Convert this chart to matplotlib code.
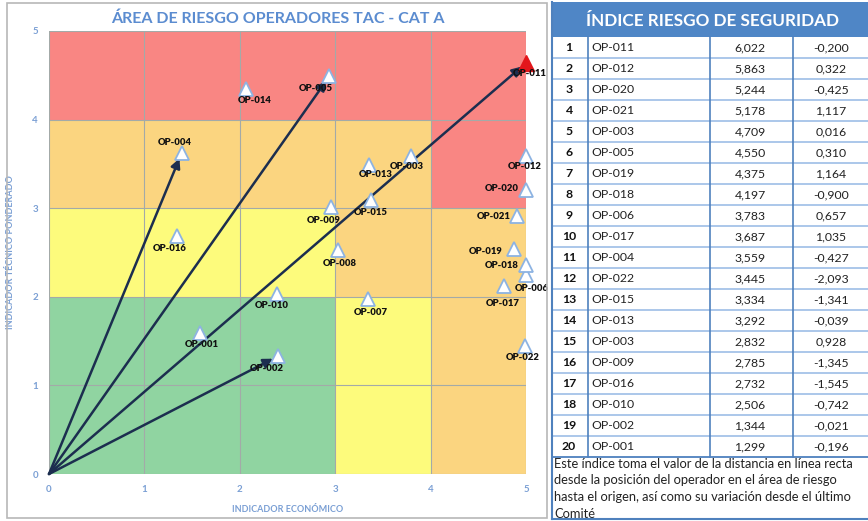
import matplotlib.pyplot as plt
from matplotlib.patches import Rectangle

plt.rcParams['font.family'] = ['Lato', 'DejaVu Sans']

# operators in the risk area (economic indicator, technical indicator)
ops = ['OP-001', 'OP-002', 'OP-003', 'OP-004', 'OP-005', 'OP-006', 'OP-007', 'OP-008',
       'OP-009', 'OP-010', 'OP-011', 'OP-012', 'OP-013', 'OP-014', 'OP-015', 'OP-016',
       'OP-017', 'OP-018', 'OP-019', 'OP-020', 'OP-021', 'OP-022']
econ = [1.58, 2.40, 3.79, 1.39, 2.94, 5.00, 3.34, 3.03, 2.96, 2.39, 5.00, 5.00,
        3.35, 2.07, 3.38, 1.34, 4.77, 5.00, 4.87, 5.00, 4.91, 4.99]
tech = [1.59, 1.33, 3.59, 3.62, 4.49, 2.25, 1.97, 2.53, 3.01, 2.03, 4.64, 3.59,
        3.49, 4.35, 3.09, 2.69, 2.12, 2.36, 2.54, 3.21, 2.91, 1.44]
arrow_ops = ['OP-004', 'OP-005', 'OP-011', 'OP-002']
top_op = 'OP-011'

# risk zones (x0, x1, y0, y1, colour)
zones = [
    (0, 5, 4, 5, '#f98683'), (4, 5, 3, 4, '#f98683'),
    (0, 4, 3, 4, '#fbd580'), (3, 5, 2, 3, '#fbd580'), (4, 5, 0, 2, '#fbd580'),
    (0, 3, 2, 3, '#fdfb7c'), (3, 4, 0, 2, '#fdfb7c'),
    (0, 3, 0, 2, '#90d4a1'),
]

# label offsets in pixels
label_off = {
    'OP-014': (8, -12), 'OP-004': (-7, 11), 'OP-016': (-7, -13), 'OP-005': (-14, -12),
    'OP-011': (4, -11), 'OP-013': (7, -10), 'OP-003': (-4, -11), 'OP-012': (-1, -11),
    'OP-020': (-24, 1), 'OP-015': (-1, -12), 'OP-009': (-8, -13), 'OP-021': (-24, 0),
    'OP-019': (-28, -3), 'OP-008': (2, -14), 'OP-018': (-24, -1), 'OP-006': (6, -14),
    'OP-017': (-1, -17), 'OP-007': (3, -13), 'OP-022': (-2, -11), 'OP-010': (-5, -11),
    'OP-001': (2, -11), 'OP-002': (-11, -12),
}

# security risk index table
rank = list(range(1, 21))
tab_ops = ['OP-011', 'OP-012', 'OP-020', 'OP-021', 'OP-003', 'OP-005', 'OP-019', 'OP-018',
           'OP-006', 'OP-017', 'OP-004', 'OP-022', 'OP-015', 'OP-013', 'OP-003', 'OP-009',
           'OP-016', 'OP-010', 'OP-002', 'OP-001']
index_val = [6.022, 5.863, 5.244, 5.178, 4.709, 4.550, 4.375, 4.197, 3.783, 3.687,
             3.559, 3.445, 3.334, 3.292, 2.832, 2.785, 2.732, 2.506, 1.344, 1.299]
variation = [-0.200, 0.322, -0.425, 1.117, 0.016, 0.310, 1.164, -0.900, 0.657, 1.035,
             -0.427, -2.093, -1.341, -0.039, 0.928, -1.345, -1.545, -0.742, -0.021, -0.196]
note = ('Este índice toma el valor de la distancia en línea recta\n'
        'desde la posición del operador en el área de riesgo\n'
        'hasta el origen, así como su variación desde el último\n'
        'Comité')

W, H = 868, 521
fig = plt.figure(figsize=(W / 100, H / 100), dpi=100)
ax = fig.add_axes([49 / W, 1 - 474 / H, (526 - 49) / W, (474 - 31) / H])

for x0, x1, y0, y1, c in zones:
    ax.add_patch(Rectangle((x0, y0), x1 - x0, y1 - y0, facecolor=c, edgecolor='none', zorder=0))

ax.set_xlim(0, 5)
ax.set_ylim(0, 5)
ax.set_xticks(range(6))
ax.set_yticks(range(6))
ax.set_xticklabels([str(v) for v in range(6)], fontweight='bold')
ax.set_yticklabels([str(v) for v in range(6)], fontweight='bold')
ax.grid(True, color='#a3aaa8', lw=0.8, zorder=1)
ax.set_axisbelow(False)
for s in ax.spines.values():
    s.set_visible(False)
ax.tick_params(length=0, labelsize=7, labelcolor='#7a9fd4', pad=8)

ax.set_xlabel('INDICADOR ECONÓMICO', fontsize=6.5, color='#7a9fd4', fontweight='bold', labelpad=8)
ax.set_ylabel('INDICADOR TÉCNICO PONDERADO', fontsize=6.5, color='#7a9fd4', fontweight='bold', labelpad=12)
ax.set_title('ÁREA DE RIESGO OPERADORES TAC - CAT A', fontsize=11.5, color='#5b8cd0',
             fontweight='bold', pad=6, x=0.48)

for name, x, y in zip(ops, econ, tech):
    if name in arrow_ops:
        ax.annotate('', xy=(x, y), xytext=(0, 0),
                    arrowprops=dict(arrowstyle='-|>', color='#1c2e4f', lw=1.8,
                                    mutation_scale=14, shrinkA=0, shrinkB=4), zorder=3)

for name, x, y in zip(ops, econ, tech):
    if name == top_op:
        ax.plot(x, y, marker='^', ms=11, color='#e3161b', mec='#e3161b', zorder=4, clip_on=False)
    else:
        ax.plot(x, y, marker='^', ms=10, color='white', mec='#8db3e2', mew=1.3, zorder=4, clip_on=False)
    dx, dy = label_off[name]
    ax.annotate(name, (x, y), xytext=(dx, dy), textcoords='offset pixels', ha='center', va='center',
                fontsize=6.8, fontweight='heavy', color='#111111', zorder=5, annotation_clip=False)

# overlay in pixel coordinates for frame and table
ov = fig.add_axes([0, 0, 1, 1], zorder=10)
ov.set_xlim(0, W)
ov.set_ylim(H, 0)
ov.axis('off')

ov.add_patch(Rectangle((7, 3), 540, 515, fill=False, edgecolor='#b8b8b8', lw=1.2))

x_l, x_r = 552, 868
col_x = [588, 710, 793]
top, head_b = 2, 37
row_h = 21.0
ov.add_patch(Rectangle((x_l, top), x_r - x_l, head_b - top, facecolor='#4f86c6', edgecolor='none'))
ov.text(713, (top + head_b) / 2 + 1, 'ÍNDICE RIESGO DE SEGURIDAD', color='white',
        fontsize=12.3, fontweight='bold', ha='center', va='center')

table_b = head_b + row_h * len(rank)
for i, (r, nm, v, d) in enumerate(zip(rank, tab_ops, index_val, variation)):
    yc = head_b + row_h * (i + 0.5)
    ov.text(569, yc, str(r), fontsize=8.8, fontweight='bold', ha='center', va='center', color='#111111')
    ov.text(591, yc, nm, fontsize=8.8, ha='left', va='center', color='#222222')
    ov.text(750, yc, f'{v:.3f}'.replace('.', ','), fontsize=8.8, ha='center', va='center', color='#222222')
    ov.text(831, yc, f'{d:.3f}'.replace('.', ','), fontsize=8.8, ha='center', va='center', color='#222222')
    ov.plot([x_l, x_r], [head_b + row_h * (i + 1)] * 2, color='#9dbde6', lw=1.2)
for cx in col_x:
    ov.plot([cx, cx], [head_b, table_b], color='#4f81bd', lw=1.2)
ov.plot([x_l, x_l], [top, H - 2], color='#4f81bd', lw=1.5)
ov.plot([x_l, x_r], [table_b, table_b], color='#4f81bd', lw=1.2)
ov.plot([x_l, x_r], [H - 2, H - 2], color='#4f81bd', lw=1.5)
ov.text(554, table_b + 1, note, fontsize=9.3, ha='left', va='top', color='#222222', linespacing=1.45)

fig.savefig('out.png', dpi=100)
